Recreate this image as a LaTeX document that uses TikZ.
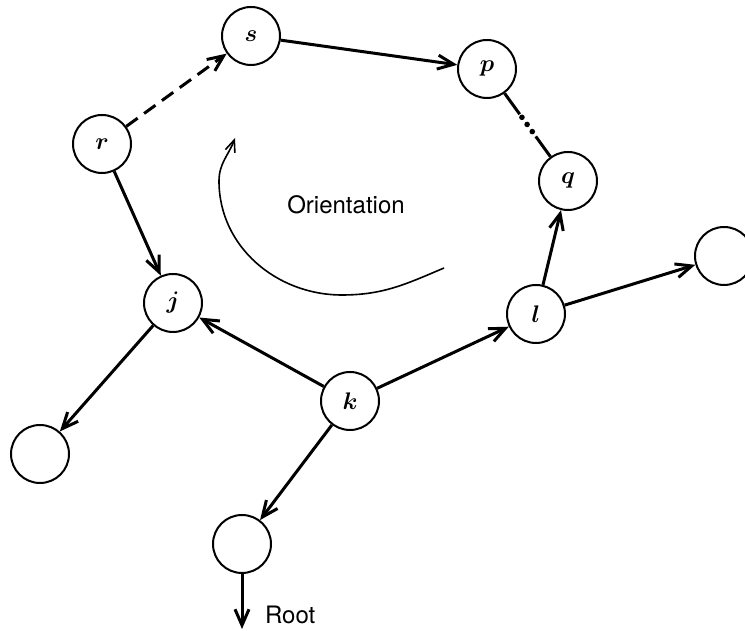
\documentclass[tikz,border=0pt]{standalone}
\usepackage{fontspec}
\newfontfamily\sanslabel{TeX Gyre Heros}
\usetikzlibrary{arrows.meta,calc}

\begin{document}
\begin{tikzpicture}[x=0.5pt, y=0.5pt,
    vertex/.style={circle, draw, line width=1pt, minimum size=29pt, inner sep=0pt, font=\large\boldmath},
    edge/.style={line width=1.5pt, -{Straight Barb[length=8pt,width=7pt]}},
    plain/.style={line width=1.5pt},
    caption/.style={font=\sanslabel\fontsize{12}{14}\selectfont}]
    \useasboundingbox (0,0) rectangle (745,631);
    % vertices
    \node[vertex] (s) at (251,595) {$s$};
    \node[vertex] (p) at (487,562) {$p$};
    \node[vertex] (r) at (102,487) {$r$};
    \node[vertex] (q) at (568,450) {$q$};
    \node[vertex] (j) at (173,328) {$j$};
    \node[vertex] (l) at (536,317) {$l$};
    \node[vertex] (k) at (350,230) {$k$};
    \node[vertex] (lout) at (724,375) {};
    \node[vertex] (jout) at (40,177) {};
    \node[vertex] (root) at (242,87) {};
    \coordinate (rootend) at (242,2);
    % the cycle
    \draw[edge, dash pattern=on 7pt off 4pt] (r) -- (s);
    \draw[edge] (s) -- (p);
    \path (p) -- coordinate[pos=0.33] (pq1) coordinate[pos=0.68] (pq2) (q);
    \draw[plain] (p) -- (pq1);
    \draw[line width=2.8pt, line cap=round, dash pattern=on 0pt off 4.4pt] ($(pq1)!0.14!(pq2)$) -- (pq2);
    \draw[plain] (pq2) -- (q);
    \draw[edge] (l) -- (q);
    \draw[edge] (k) -- (l);
    \draw[edge] (k) -- (j);
    \draw[edge] (r) -- (j);
    % rest of the tree
    \draw[edge] (j) -- (jout);
    \draw[edge] (l) -- (lout);
    \draw[edge] (k) -- (root);
    \draw[edge] (root) -- (rootend);
    \node[caption, anchor=west] (rootlbl) at (258,16) {Root};
    % orientation
    \node[caption] (orient) at (346,426) {Orientation};
    \draw[line width=0.8pt, -{Straight Barb[length=6pt,width=5pt]}]
        (444,363) to[out=203, in=0] (342,336) to[out=180, in=-90] (219,450) to[out=90, in=250] (235,493);
\end{tikzpicture}
\end{document}
